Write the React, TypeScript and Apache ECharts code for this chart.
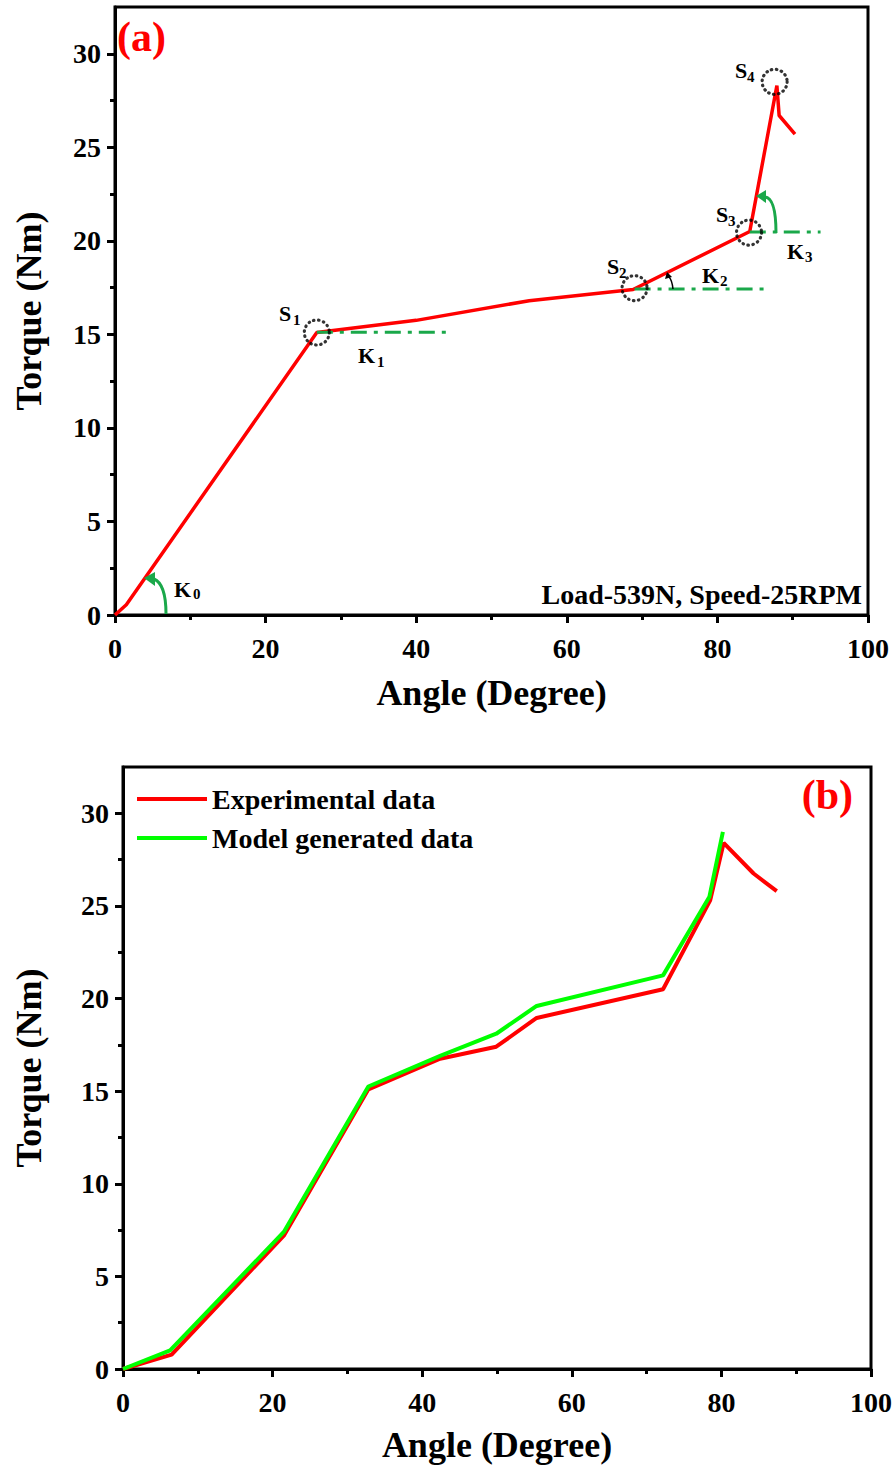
import React, { useEffect, useRef } from "react";
import * as echarts from "echarts";

// ---------- DATA ----------
// Panel (a): experimental torque-angle curve (Load-539N, Speed-25RPM)
const curveA: [number, number][] = [
  [0, 0], [1.5, 0.55], [26.8, 15.1], [40, 15.75], [55, 16.8], [68.8, 17.4],
  [84.3, 20.5], [87.9, 28.3], [88.2, 26.7], [90.3, 25.7],
];
// Reference (slope) lines K1..K3
const k1Line: [number, number][] = [[26.8, 15.12], [44.5, 15.12]];
const k2Line: [number, number][] = [[69.0, 17.43], [86.2, 17.43]];
const k3Line: [number, number][] = [[84.3, 20.47], [93.7, 20.47]];
// Transition points S1..S4 (dotted circles)
const sPoints: [number, number][] = [[26.8, 15.1], [69.0, 17.47], [84.2, 20.44], [87.6, 28.5]];

// Panel (b)
const expData: [number, number][] = [
  [0, 0], [6.5, 0.78], [21.5, 7.2], [32.8, 15.1], [42.4, 16.75], [49.9, 17.4],
  [55.3, 18.95], [72.2, 20.5], [78.5, 25.3], [80.3, 28.4], [84.3, 26.75], [87.4, 25.8],
];
const modelData: [number, number][] = [
  [0, 0], [6.3, 1.0], [21.5, 7.4], [32.8, 15.25], [42.4, 16.9], [49.9, 18.1],
  [55.3, 19.6], [72.2, 21.25], [78.4, 25.5], [80.2, 29.0],
];

const yMajorTicks = [0, 5, 10, 15, 20, 25, 30];
const yMinorTicks = [2.5, 7.5, 12.5, 17.5, 22.5, 27.5];
const seriesNames = ["Experimental data", "Model generated data"];

// ---------- STYLE ----------
const FONT = '"Liberation Serif", "Times New Roman", serif';
const RED = "#ff0000";
const DGREEN = "#1aa84a";
const LGREEN = "#00ff00";

function xAxisCfg(gridIndex: number, nameGap: number) {
  return {
    gridIndex,
    type: "value",
    min: 0,
    max: 100,
    interval: 20,
    name: "Angle (Degree)",
    nameLocation: "middle",
    nameGap,
    nameTextStyle: { fontFamily: FONT, fontWeight: "bold", fontSize: 36, color: "#000" },
    axisLine: { show: true, onZero: false, lineStyle: { color: "#000", width: 3 } },
    axisTick: { show: true, inside: false, length: 8, lineStyle: { color: "#000", width: 3 } },
    minorTick: { show: true, splitNumber: 2, length: 5, lineStyle: { color: "#000", width: 3 } },
    axisLabel: { fontFamily: FONT, fontWeight: "bold", fontSize: 28, color: "#000", margin: 19 },
    splitLine: { show: false },
    minorSplitLine: { show: false },
  };
}

function yAxisMajor(gridIndex: number, nameGap: number) {
  return {
    gridIndex,
    type: "value",
    position: "left",
    min: 0,
    max: 32.5,
    interval: 2.5,
    name: "Torque (Nm)",
    nameLocation: "middle",
    nameGap,
    nameTextStyle: { fontFamily: FONT, fontWeight: "bold", fontSize: 36, color: "#000" },
    axisLine: { show: true, onZero: false, lineStyle: { color: "#000", width: 3 } },
    axisTick: { show: true, inside: false, length: 8, customValues: yMajorTicks, lineStyle: { color: "#000", width: 3 } },
    axisLabel: {
      customValues: yMajorTicks,
      fontFamily: FONT, fontWeight: "bold", fontSize: 28, color: "#000", margin: 14,
      formatter: (v: number) => (v % 5 === 0 && v <= 30 ? String(v) : ""),
    },
    splitLine: { show: false },
  };
}

function yAxisMinor(gridIndex: number) {
  return {
    gridIndex,
    type: "value",
    position: "left",
    offset: 0,
    min: 0,
    max: 32.5,
    interval: 2.5,
    axisLine: { show: false },
    axisTick: { show: true, inside: false, length: 5, customValues: yMinorTicks, lineStyle: { color: "#000", width: 3 } },
    axisLabel: { show: false },
    splitLine: { show: false },
  };
}

function letterText(letter: string, sub: string, x: number, yc: number, sx: number, syc: number) {
  return [
    {
      type: "text", x, y: yc, z: 100,
      style: { text: letter, fill: "#000", fontFamily: FONT, fontWeight: "bold", fontSize: 22, align: "left", verticalAlign: "middle" },
    },
    {
      type: "text", x: sx, y: syc, z: 100,
      style: { text: sub, fill: "#000", fontFamily: FONT, fontWeight: "bold", fontSize: 15, align: "left", verticalAlign: "middle" },
    },
  ];
}

export default function App() {
  const ref = useRef<HTMLDivElement>(null);

  useEffect(() => {
    if (!ref.current) return;
    const chart = echarts.init(ref.current, null, { renderer: "svg" });

    const dashStyle = { color: DGREEN, width: 3, type: [16, 7, 4, 7] };

    const graphics: any[] = [
      // panel labels
      { type: "text", x: 117, y: 37, z: 100, style: { text: "(a)", fill: RED, fontFamily: FONT, fontWeight: "bold", fontSize: 42, align: "left", verticalAlign: "middle" } },
      { type: "text", x: 853, y: 795, z: 100, style: { text: "(b)", fill: RED, fontFamily: FONT, fontWeight: "bold", fontSize: 42, align: "right", verticalAlign: "middle" } },
      { type: "text", x: 862, y: 594, z: 100, style: { text: "Load-539N, Speed-25RPM", fill: "#000", fontFamily: FONT, fontWeight: "bold", fontSize: 28, align: "right", verticalAlign: "middle" } },
      ...letterText("S", "1", 279, 313, 293, 320),
      ...letterText("K", "1", 358, 355, 377, 362),
      ...letterText("S", "2", 607, 266, 619, 273),
      ...letterText("K", "2", 702, 275, 720, 281),
      ...letterText("S", "3", 716, 214, 728, 221),
      ...letterText("K", "3", 787, 251, 805, 257),
      ...letterText("S", "4", 735, 70, 747, 77),
      ...letterText("K", "0", 174, 589, 193, 594),
      // K0 arrow
      { type: "bezierCurve", z: 90, shape: { x1: 166, y1: 614, cpx1: 166, cpy1: 584, x2: 154, y2: 579 }, style: { stroke: DGREEN, lineWidth: 3, fill: null } },
      { type: "polygon", z: 90, shape: { points: [[144, 578], [155, 572], [155, 586]] }, style: { fill: DGREEN } },
      // K3 arrow
      { type: "bezierCurve", z: 90, shape: { x1: 776, y1: 233, cpx1: 776, cpy1: 198, x2: 765, y2: 197 }, style: { stroke: DGREEN, lineWidth: 3, fill: null } },
      { type: "polygon", z: 90, shape: { points: [[756, 196], [766, 190], [766, 203]] }, style: { fill: DGREEN } },
      // K2 small black arrow
      { type: "bezierCurve", z: 90, shape: { x1: 673, y1: 289, cpx1: 672, cpy1: 280, x2: 669, y2: 277 }, style: { stroke: "#000", lineWidth: 1.5, fill: null } },
      { type: "polygon", z: 90, shape: { points: [[667, 272], [665, 279], [672, 277]] }, style: { fill: "#000" } },
    ];

    const option: any = {
      animation: false,
      backgroundColor: "#fff",
      grid: [
        { left: 115, top: 7, width: 753, height: 608, show: true, borderColor: "#000", borderWidth: 3, backgroundColor: "transparent" },
        { left: 123, top: 767, width: 748, height: 602, show: true, borderColor: "#000", borderWidth: 3, backgroundColor: "transparent" },
      ],
      xAxis: [xAxisCfg(0, 60), xAxisCfg(1, 58)],
      yAxis: [yAxisMajor(0, 68), yAxisMinor(0), yAxisMajor(1, 76), yAxisMinor(1)],
      legend: {
        data: seriesNames,
        orient: "vertical",
        left: 132,
        top: 779,
        itemWidth: 70,
        itemHeight: 4,
        itemGap: 9,
        icon: "rect",
        textStyle: { fontFamily: FONT, fontWeight: "bold", fontSize: 28, color: "#000", lineHeight: 30 },
      },
      series: [
        // panel (a)
        { type: "line", name: "curveA", xAxisIndex: 0, yAxisIndex: 0, data: curveA, symbol: "none", lineStyle: { color: RED, width: 3.5 }, z: 3 },
        { type: "line", name: "K1", xAxisIndex: 0, yAxisIndex: 0, data: k1Line, symbol: "none", lineStyle: dashStyle, z: 4 },
        { type: "line", name: "K2", xAxisIndex: 0, yAxisIndex: 0, data: k2Line, symbol: "none", lineStyle: dashStyle, z: 4 },
        { type: "line", name: "K3", xAxisIndex: 0, yAxisIndex: 0, data: k3Line, symbol: "none", lineStyle: dashStyle, z: 4 },
        {
          type: "scatter", name: "S", xAxisIndex: 0, yAxisIndex: 0, data: sPoints, symbol: "circle", symbolSize: 25, z: 5,
          itemStyle: { color: "rgba(0,0,0,0)", borderColor: "#000", borderWidth: 3.2, borderType: [0.5, 4.5], borderCap: "round" },
        },
        // panel (b)
        { type: "line", name: seriesNames[0], xAxisIndex: 1, yAxisIndex: 2, data: expData, symbol: "none", itemStyle: { color: RED }, lineStyle: { color: RED, width: 4 }, z: 3 },
        { type: "line", name: seriesNames[1], xAxisIndex: 1, yAxisIndex: 2, data: modelData, symbol: "none", itemStyle: { color: LGREEN }, lineStyle: { color: LGREEN, width: 4 }, z: 4 },
      ],
      graphic: graphics,
    };

    chart.setOption(option);
    return () => chart.dispose();
  }, []);

  return (
    <div
      ref={ref}
      style={{ position: "absolute", left: 0, top: 0, width: 896, height: 1465, background: "#fff" }}
    />
  );
}
